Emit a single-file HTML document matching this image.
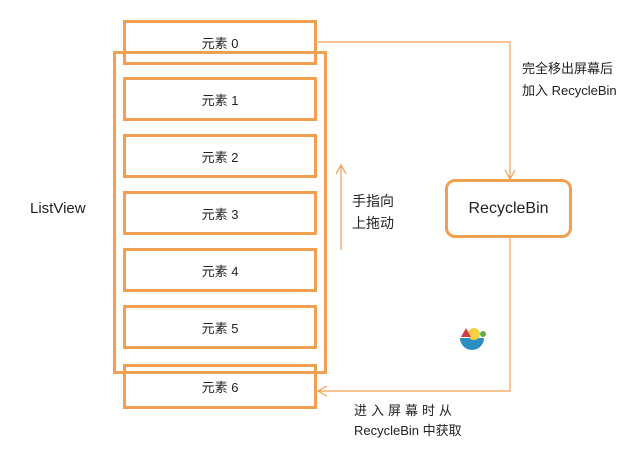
<!DOCTYPE html>
<html><head><style>
body{margin:0;width:644px;height:452px;background:#fff;position:relative;font-family:"Liberation Sans","Noto Sans CJK SC",sans-serif;color:#222;overflow:hidden}
.b{position:absolute;border:3px solid #f0a050;box-sizing:border-box;display:flex;align-items:center;justify-content:center;font-size:13px}
.t{position:absolute;font-size:13px;line-height:22px}
</style></head><body>
<div class="b" style="left:123px;top:20px;width:194px;height:45px">元素 0</div>
<div class="b" style="left:113px;top:51px;width:214px;height:323px"></div>
<div class="b" style="left:123px;top:77px;width:194px;height:44px">元素 1</div>
<div class="b" style="left:123px;top:134px;width:194px;height:44px">元素 2</div>
<div class="b" style="left:123px;top:191px;width:194px;height:44px">元素 3</div>
<div class="b" style="left:123px;top:248px;width:194px;height:44px">元素 4</div>
<div class="b" style="left:123px;top:305px;width:194px;height:44px">元素 5</div>
<div class="b" style="left:123px;top:364px;width:194px;height:45px">元素 6</div>
<div class="b" style="left:445px;top:179px;width:127px;height:59px;border-radius:10px;font-size:16px">RecycleBin</div>
<div class="t" style="left:30px;top:198px;font-size:15px">ListView</div>
<div class="t" style="left:352px;top:190px;font-size:14px">手指向<br>上拖动</div>
<div class="t" style="left:522px;top:58px">完全移出屏幕后<br>加入 RecycleBin</div>
<div class="t" style="left:354px;top:400px;letter-spacing:4px">进入屏幕时从</div>
<div class="t" style="left:354px;top:420px">RecycleBin 中获取</div>
<svg width="644" height="452" style="position:absolute;left:0;top:0" fill="none" stroke="#f0a050" stroke-width="1.2">
<polyline points="318,42 510,42 510,178"/>
<polyline points="505,170 510,179 515,170"/>
<polyline points="510,238 510,391 319,391"/>
<polyline points="327,386 318,391 327,396"/>
<line x1="341" y1="250" x2="341" y2="166"/>
<polyline points="336,174 341,165 346,174"/>
<g stroke="none"><path d="M460,338 a12,12 0 0 0 24,0 z" fill="#2a8fc0"/><circle cx="474" cy="334" r="6" fill="#f5d040"/><path d="M461,337 l5,-9 5,9z" fill="#d04040"/><circle cx="483" cy="334" r="3" fill="#60b040"/></g>
</svg>
</body></html>
